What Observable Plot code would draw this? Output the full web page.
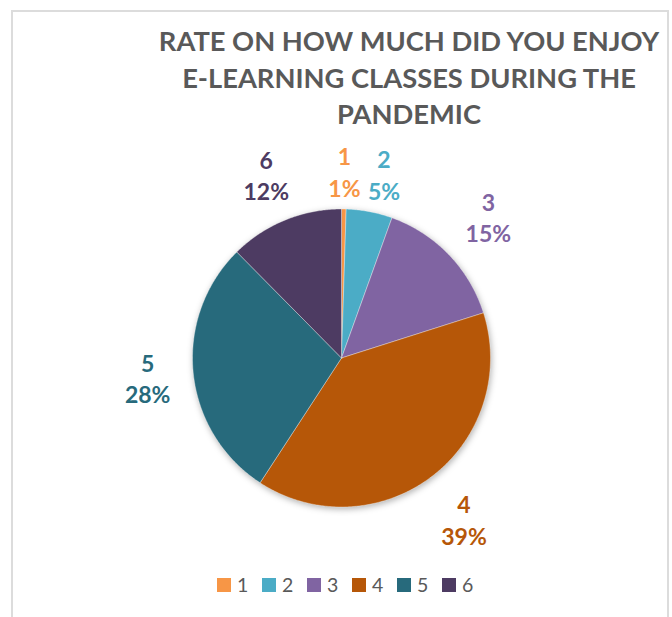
<!DOCTYPE html>
<html><head><meta charset="utf-8">
<script src="https://cdn.jsdelivr.net/npm/d3@7"></script>
<script src="https://cdn.jsdelivr.net/npm/@observablehq/plot@0.6"></script>
<style>
body{margin:0;background:#fff;}
#wrap{position:relative;width:672px;height:617px;overflow:hidden;font-family:Lato,"Open Sans",sans-serif;background:#fff;}
#frame{position:absolute;left:11px;top:10px;width:658px;height:660px;border:2px solid #dcdcdc;box-sizing:border-box;}
#title{position:absolute;left:109px;width:600px;top:23px;text-align:center;font-weight:700;font-size:27.3px;line-height:36.6px;color:#595959;}
#chart{position:absolute;left:0;top:0;}
#legend{position:absolute;left:217px;top:574px;display:flex;}
.item{display:flex;align-items:center;width:45px;font-size:19.5px;color:#595959;line-height:22px;}
.sw{width:14px;height:14px;margin-right:6px;flex:none;}
</style></head>
<body>
<div id="wrap">
  <div id="frame"></div>
  <div id="chart"></div>
  <div id="title"></div>
  <div id="legend"></div>
</div>
<script>
// ---- data ----
const titleLines = ["RATE ON HOW MUCH DID YOU ENJOY", "E-LEARNING CLASSES DURING THE", "PANDEMIC"];
const categories = ["1", "2", "3", "4", "5", "6"];
const values = [0.5, 5.0, 14.6, 39.1, 28.4, 12.4];   // percent shares
const colors = ["#F79646", "#4BACC6", "#8064A2", "#B65708", "#276A7C", "#4D3B62"];

// ---- layout constants ----
const W = 672, H = 617;
const CX = 341, CY = 357.5, R = 149;   // pie centre and radius in px

// title
document.getElementById("title").innerHTML = titleLines.join("<br>");

// slices
const arcs = d3.pie().sort(null).value(d => d)(values);
const slicePts = [];
arcs.forEach((a, i) => {
  const cat = categories[i];
  slicePts.push({x: 0, y: 0, cat});
  const n = Math.max(2, Math.ceil((a.endAngle - a.startAngle) / (Math.PI / 360)));
  for (let k = 0; k <= n; k++) {
    const t = a.startAngle + (a.endAngle - a.startAngle) * k / n;
    slicePts.push({x: Math.sin(t), y: Math.cos(t), cat});
  }
  slicePts.push({x: 0, y: 0, cat});
});

// labels (outside end, along each slice's middle angle)
const total = d3.sum(values);
const labels = arcs.map((a, i) => {
  const pct = Math.round(values[i] / total * 100) + "%";
  const mid = (a.startAngle + a.endAngle) / 2;
  const s = Math.sin(mid), c = Math.cos(mid);
  const w = Math.max(categories[i].length, pct.length) * 7.9, h = 25;
  const edge = Math.min(Math.abs(s) > 1e-6 ? w / Math.abs(s) : Infinity, Math.abs(c) > 1e-6 ? h / Math.abs(c) : Infinity);
  const gap = values[i] / total < 0.06 ? 13 : 22;
  const d = R + gap + edge;
  return {px: s * d, py: c * d, w, h, cat: categories[i], text: categories[i] + "\n" + pct};
});
// simple overlap resolution with the previous label
for (let i = 1; i < labels.length; i++) {
  const p = labels[i - 1], q = labels[i];
  const need = p.w + q.w + 8;
  if (Math.abs(q.py - p.py) < p.h + q.h && Math.abs(q.px - p.px) < need) {
    q.px = p.px + (q.px >= p.px ? need : -need);
  }
}
labels.forEach(l => { l.x = l.px / R; l.y = l.py / R; });

const plot = Plot.plot({
  width: W, height: H,
  margin: 0,
  style: {fontFamily: "Lato, 'Open Sans', sans-serif", background: "transparent"},
  x: {domain: [-1, 1], range: [CX - R, CX + R], axis: null},
  y: {domain: [-1, 1], range: [CY + R, CY - R], axis: null},
  color: {domain: categories, range: colors},
  marks: [
    Plot.line(slicePts, {x: "x", y: "y", z: "cat", fill: "cat", stroke: "white", strokeWidth: 0.6, strokeOpacity: 0.6, curve: "linear"}),
    Plot.text(labels, {x: "x", y: "y", text: "text", fill: "cat", fontSize: 23, fontWeight: "bold",
      lineHeight: 1.36, textAnchor: "middle", lineAnchor: "middle"})
  ]
});
const g = plot.querySelector('g[aria-label="line"]');
if (g) g.style.filter = "drop-shadow(1px 2px 3px rgba(0,0,0,0.3))";
document.getElementById("chart").appendChild(plot);

// legend
const leg = document.getElementById("legend");
categories.forEach((c, i) => {
  const it = document.createElement("div");
  it.className = "item";
  it.innerHTML = `<span class="sw" style="background:${colors[i]}"></span><span>${c}</span>`;
  leg.appendChild(it);
});
</script>
</body></html>
